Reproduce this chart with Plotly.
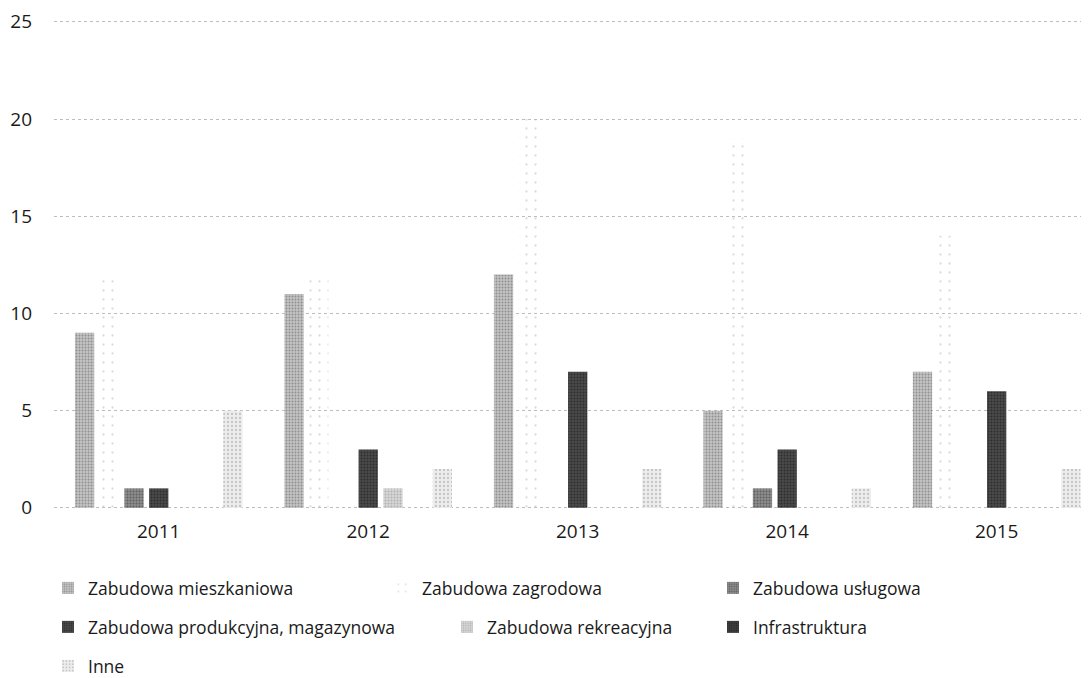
import plotly.graph_objects as go

years = ["2011", "2012", "2013", "2014", "2015"]

series_names = [
    "Zabudowa mieszkaniowa",
    "Zabudowa zagrodowa",
    "Zabudowa usługowa",
    "Zabudowa produkcyjna, magazynowa",
    "Zabudowa rekreacyjna",
    "Infrastruktura",
    "Inne",
]

mieszkaniowa = [9, 11, 12, 5, 7]
zagrodowa = [12, 12, 20, 19, 14]
uslugowa = [1, 0, 0, 1, 0]
produkcyjna = [1, 3, 7, 3, 6]
rekreacyjna = [0, 1, 0, 0, 0]
infrastruktura = [0, 0, 0, 0, 0]
inne = [5, 2, 2, 1, 2]

values = [mieszkaniowa, zagrodowa, uslugowa, produkcyjna, rekreacyjna, infrastruktura, inne]

# styles: (bgcolor, pattern fgcolor, pattern size, solidity)
styles = [
    ("#c4c4c4", "#5a5a5a", 3, 0.35),
    ("rgba(255,255,255,0)", "#b8b8b8", 9, 0.05),
    ("#8c8c8c", "#333333", 3, 0.35),
    ("#4a4a4a", "#111111", 3, 0.35),
    ("#d6d6d6", "#8a8a8a", 3, 0.3),
    ("#404040", "#111111", 3, 0.35),
    ("#ededed", "#9a9a9a", 4, 0.25),
]

# legend placement (text left x in px, row center y in px)
legend_pos = [(88, 588), (422, 588), (753, 588),
              (88, 627), (487, 627), (753, 627),
              (88, 666)]

W, H = 1089, 678
FONT = "Open Sans"
FS = 17.5
TFS = 19

fig = go.Figure()
for i, (name, vals) in enumerate(zip(series_names, values)):
    bg, fg, sz, sol = styles[i]
    lname = "legend" if i == 0 else f"legend{i+1}"
    fig.add_trace(go.Bar(
        x=years, y=vals, name=name,
        marker=dict(color=bg, line=dict(width=0),
                    pattern=dict(shape=".", fgcolor=fg, bgcolor=bg, size=sz, solidity=sol)),
        legend=lname,
    ))

layout_legends = {}
for i, (tx, ty) in enumerate(legend_pos):
    lname = "legend" if i == 0 else f"legend{i+1}"
    layout_legends[lname] = dict(
        xref="container", yref="container",
        x=(tx - 48) / W, y=1 - (ty - 8) / H,
        xanchor="left", yanchor="middle",
        bgcolor="rgba(0,0,0,0)", borderwidth=0,
        font=dict(family=FONT, size=FS, color="#1a1a1a"),
        orientation="v",
    )

fig.update_layout(
    width=W, height=H,
    margin=dict(l=46, r=0, t=8, b=177, autoexpand=False),
    paper_bgcolor="white", plot_bgcolor="white",
    barmode="group", bargap=0.174, bargroupgap=0.22,
    font=dict(family=FONT, size=FS, color="#1a1a1a"),
    xaxis=dict(type="category", range=[-0.5, 4.479], showgrid=False, zeroline=False,
               showline=False, ticks="", ticklabelstandoff=9, automargin=False,
               tickfont=dict(family=FONT, size=TFS, color="#1a1a1a")),
    yaxis=dict(range=[-0.06, 25.3], tickvals=[0, 5, 10, 15, 20, 25], showgrid=True,
               gridcolor="#bdbdbd", griddash="dot", gridwidth=1, automargin=False,
               zeroline=False, showline=False, ticks="", ticklabelstandoff=21,
               tickfont=dict(family=FONT, size=TFS, color="#1a1a1a")),
    showlegend=True,
    **layout_legends,
)

fig.write_html("out.html")
